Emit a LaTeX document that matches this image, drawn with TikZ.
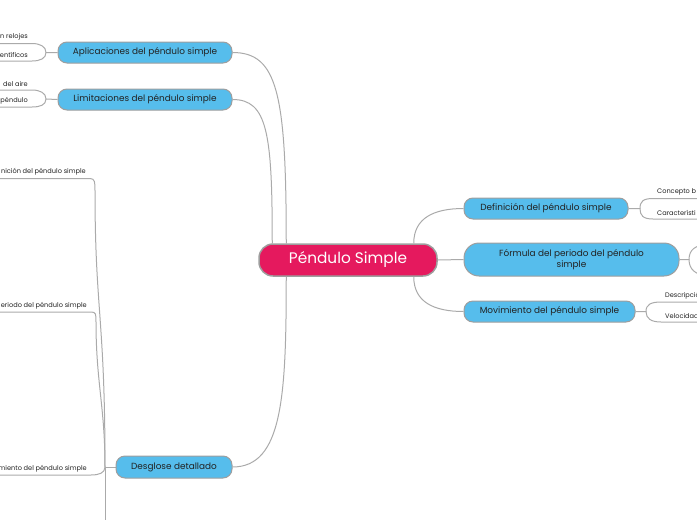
\documentclass[tikz,border=0pt]{standalone}
\usepackage{fontspec}
\setmainfont{Poppins}
\usetikzlibrary{backgrounds}
\definecolor{rootred}{RGB}{229,25,94}
\definecolor{branchblue}{RGB}{86,189,236}
\definecolor{edgegray}{RGB}{170,170,170}
\definecolor{rimgray}{RGB}{158,158,158}
\definecolor{inkgray}{RGB}{34,34,34}

\begin{document}
\begin{tikzpicture}[x=1pt,y=-1pt,
  root/.style={draw=rimgray,line width=1.5pt,fill=rootred,rounded corners=14pt,minimum height=32pt,text=white,font=\fontsize{15.3}{17}\selectfont,inner sep=0pt},
  branch/.style={draw=rimgray,line width=1pt,fill=branchblue,rounded corners=9pt,minimum height=21pt,text=inkgray,font=\fontsize{8.9}{10.5}\selectfont,inner sep=0pt},
  leaf/.style={text=inkgray,font=\fontsize{6.6}{7.5}\selectfont,inner xsep=4pt,inner ysep=3pt},
  conn/.style={draw=edgegray,line width=1pt}]
\useasboundingbox (0,0) rectangle (697,520);
\clip (0,0) rectangle (697,520);

% main topic and branches
\node[root,minimum width=178pt] (root) at (348,260) {Péndulo Simple};
\node[branch,minimum width=174pt] (apl) at (145,52.5) {Aplicaciones del péndulo simple};
\node[branch,minimum width=174pt] (lim) at (145,99.5) {Limitaciones del péndulo simple};
\node[branch,minimum width=116pt,minimum height=22pt] (desg) at (174,467) {Desglose detallado};
\node[branch,minimum width=164pt] (def) at (546,208.5) {Definición del péndulo simple};
\node[branch,minimum width=215pt,minimum height=33pt,rounded corners=15pt,align=center] (form) at (571.5,259.5) {Fórmula del periodo del péndulo\\simple};
\node[branch,minimum width=171pt] (mov) at (549.5,311.5) {Movimiento del péndulo simple};

% sub topics (cut by the frame)
\node[leaf,anchor=south east] (apl1) at (32,43.5) {n relojes};
\node[leaf,anchor=south east] (apl2) at (32,61) {entíficos};
\node[leaf,anchor=south east] (lim1) at (32,90) {del aire};
\node[leaf,anchor=south east] (lim2) at (32,107) {péndulo};
\node[leaf,anchor=south east] (desg1) at (90,178.5) {nición del péndulo simple};
\node[leaf,anchor=south east] (desg2) at (91,312) {eriodo del péndulo simple};
\node[leaf,anchor=south east] (desg3) at (91,475) {miento del péndulo simple};
\node[leaf,anchor=south west] (def1) at (653,198.5) {Concepto b};
\node[leaf,anchor=south west] (def2) at (653,219) {Característi};
\node[leaf,anchor=south west] (mov1) at (661,302) {Descripció};
\node[leaf,anchor=south west] (mov2) at (661,322) {Velocidad};

\coordinate (aplj) at (46,52.5);
\coordinate (limj) at (46,99);
\coordinate (desgj) at (105,467);
\coordinate (desg4) at (105,540);
\coordinate (defj) at (640,208.5);
\coordinate (formj) at (689,259.5);
\coordinate (form1) at (706,245);
\coordinate (form2) at (706,275);
\coordinate (movj) at (646,311.5);

\begin{scope}[on background layer]
\draw[conn] ([xshift=28pt]root.north west) .. controls +(0,-150) and +(45,0) .. (apl.east);
\draw[conn] ([xshift=14pt]root.north west) .. controls +(0,-110) and +(35,0) .. (lim.east);
\draw[conn] ([xshift=28pt]root.south west) .. controls +(0,120) and +(50,0) .. (desg.east);
\draw[conn] ([xshift=-24pt]root.north east) .. controls +(0,-25) and +(-30,0) .. (def.west);
\draw[conn] (root.east) -- (form.west);
\draw[conn] ([xshift=-24pt]root.south east) .. controls +(0,25) and +(-30,0) .. (mov.west);

\draw[conn] (apl.west) -- (aplj) .. controls +(0,-6) and +(8,0) .. (apl1.south east) -- (apl1.south west);
\draw[conn] (aplj) .. controls +(0,6) and +(8,0) .. (apl2.south east) -- (apl2.south west);
\draw[conn] (lim.west) -- (limj) .. controls +(0,-6) and +(8,0) .. (lim1.south east) -- (lim1.south west);
\draw[conn] (limj) .. controls +(0,6) and +(8,0) .. (lim2.south east) -- (lim2.south west);

\draw[conn] (desg.west) -- (desgj) -- (desg4);
\draw[conn] (desg1.south west) -- (desg1.south east) .. controls +(5,0) and +(0,-8) .. ++(5,12) .. controls +(0,120) and +(0,-150) .. (desgj);
\draw[conn] (desg2.south west) -- (desg2.south east) .. controls +(5,0) and +(0,-8) .. ++(5,10) .. controls +(0,60) and +(0,-60) .. (desgj);
\draw[conn] (desg3.south west) -- (desg3.south east) .. controls +(8,0) and +(0,6) .. (desgj);

\draw[conn] (def.east) -- (defj) .. controls +(0,-7) and +(-10,0) .. (def1.south west) -- ++(60,0);
\draw[conn] (defj) .. controls +(0,7) and +(-10,0) .. (def2.south west) -- ++(60,0);
\draw[conn] (form.east) -- (formj) .. controls +(0,-10) and +(-10,0) .. (form1);
\draw[conn] (formj) .. controls +(0,10) and +(-10,0) .. (form2);
\draw[conn] (mov.east) -- (movj) .. controls +(0,-7) and +(-10,0) .. (mov1.south west) -- ++(60,0);
\draw[conn] (movj) .. controls +(0,7) and +(-10,0) .. (mov2.south west) -- ++(60,0);
\end{scope}
\end{tikzpicture}
\end{document}
